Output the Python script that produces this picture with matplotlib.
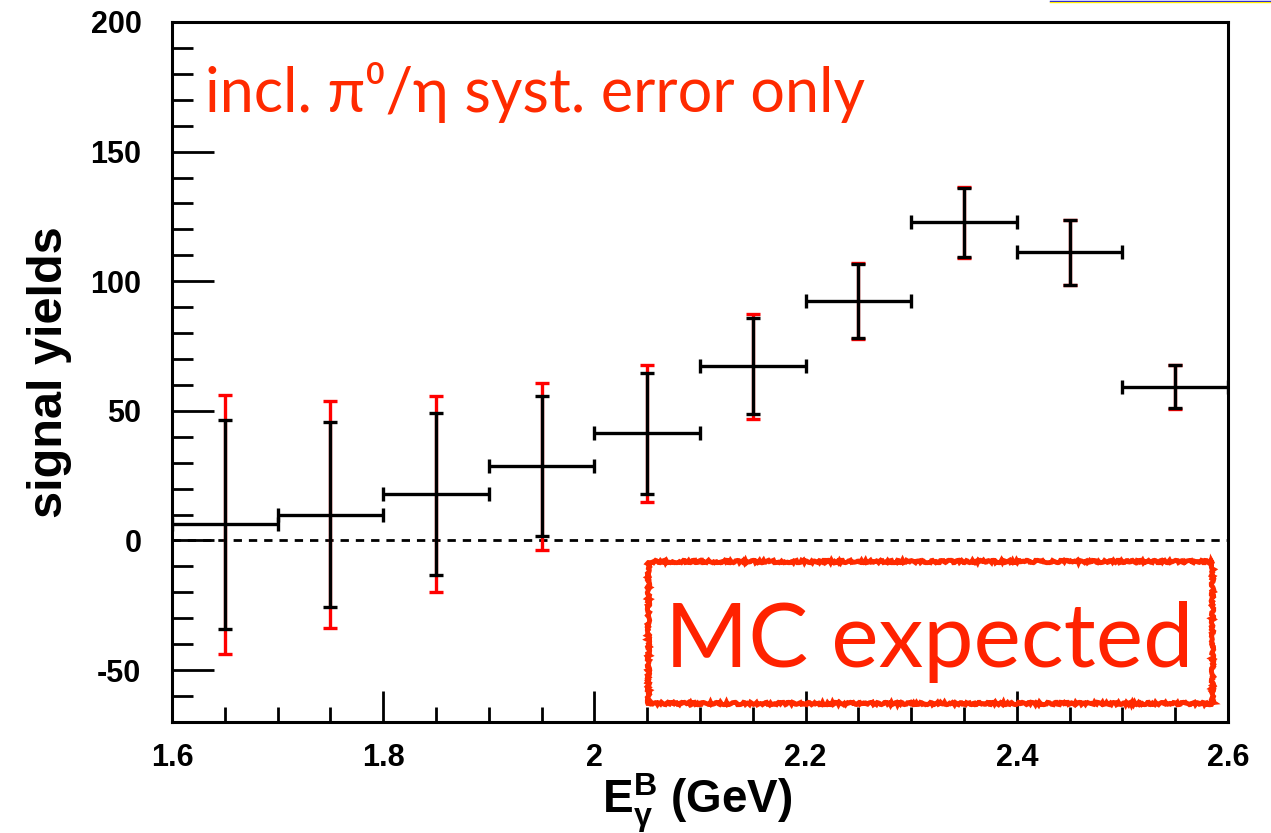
import matplotlib
matplotlib.use("Agg")
import matplotlib.pyplot as plt
from matplotlib.lines import Line2D
from matplotlib.patches import Rectangle

# bin centres (GeV) and half widths
e_gamma = [1.65, 1.75, 1.85, 1.95, 2.05, 2.15, 2.25, 2.35, 2.45, 2.55]
bin_half = [0.05] * 10
# signal yields
yields = [6.2, 10.0, 17.9, 28.6, 41.3, 67.2, 92.4, 122.7, 111.1, 59.3]
# statistical error (black)
stat_err = [40.2, 35.7, 31.3, 27.0, 23.4, 18.5, 14.3, 13.4, 12.5, 8.3]
# error incl. pi0/eta systematic (red)
tot_err = [50.0, 43.8, 37.8, 32.2, 26.5, 20.3, 14.6, 13.6, 12.7, 8.5]

xticks = [1.6, 1.8, 2.0, 2.2, 2.4, 2.6]
xticklabels = ["1.6", "1.8", "2", "2.2", "2.4", "2.6"]
yticks = [-50, 0, 50, 100, 150, 200]

plt.rcParams['font.family'] = ['Liberation Sans', 'DejaVu Sans']
plt.rcParams['font.weight'] = 'bold'
plt.rcParams['axes.unicode_minus'] = False
plt.rcParams['mathtext.fontset'] = 'custom'
plt.rcParams['mathtext.rm'] = 'Liberation Sans:bold'
plt.rcParams['mathtext.it'] = 'Liberation Sans:bold'
plt.rcParams['mathtext.bf'] = 'Liberation Sans:bold'

fig = plt.figure(figsize=(12.71, 8.33), dpi=100)
ax = fig.add_axes([0.1353, 0.1333, 0.8309, 0.8403])

# red (with syst) bars underneath, black stat bars on top
ax.errorbar(e_gamma, yields, yerr=tot_err, fmt='none', ecolor='#ff0000',
            elinewidth=2.4, capsize=5, capthick=2.4, zorder=2)
ax.errorbar(e_gamma, yields, xerr=bin_half, yerr=stat_err, fmt='none',
            ecolor='black', elinewidth=2.4, capsize=5, capthick=2.4, zorder=3)

ax.axhline(0, color='black', linestyle=(0, (3, 2.5)), linewidth=2, zorder=1)

ax.set_xlim(1.6, 2.6)
ax.set_ylim(-70, 200)
ax.set_xticks(xticks)
ax.set_xticklabels(xticklabels)
ax.set_yticks(yticks)
ax.set_xticks([1.6 + 0.05 * i for i in range(21)], minor=True)
ax.set_yticks(list(range(-70, 201, 10)), minor=True)
ax.tick_params(axis='both', which='major', direction='in', length=22, width=2,
               labelsize=22, pad=15)
ax.tick_params(axis='y', which='major', length=30, pad=22)
ax.tick_params(axis='x', which='minor', direction='in', length=11, width=2)
ax.tick_params(axis='y', which='minor', direction='in', length=15, width=2)
for lab in ax.get_xticklabels() + ax.get_yticklabels():
    lab.set_fontweight('bold')
for s in ax.spines.values():
    s.set_linewidth(2.2)

ax.set_ylabel("signal yields", fontsize=35, fontweight='bold', labelpad=13)
ax.set_xlabel(r"E$_{\gamma}^{\mathrm{B}}$ (GeV)", fontsize=33, fontweight='bold')
ax.xaxis.label.set_va('baseline')
ax.xaxis.set_label_coords(0.497, -0.131)

ax.text(0.031, 0.871, "incl. π⁰/η syst. error only", transform=ax.transAxes,
        fontsize=44, color='#ff2a00', fontweight='normal',
        family=['Lato', 'Noto Sans', 'DejaVu Sans'], va='baseline', ha='left')

box = Rectangle((0.451, 0.027), 0.534, 0.203, transform=ax.transAxes,
                fill=False, edgecolor='#ff2a00', linewidth=3.5, zorder=4)
box.set_sketch_params(scale=1.2, length=4, randomness=8)
ax.add_patch(box)
ax.text(0.717, 0.0786, "MC expected", transform=ax.transAxes, fontsize=64.5,
        color='#ff2200', fontweight='normal',
        family=['Lato', 'Noto Sans', 'DejaVu Sans'], va='baseline', ha='center')

# slide decoration at top right
fig.add_artist(Line2D([0.826, 1.0], [1 - 0.6 / 833, 1 - 0.6 / 833],
                      transform=fig.transFigure, color='#0000ff', linewidth=1))
fig.add_artist(Line2D([0.826, 1.0], [1 - 1.8 / 833, 1 - 1.8 / 833],
                      transform=fig.transFigure, color='#ffee00', linewidth=1))

fig.savefig("out.png", dpi=100)
